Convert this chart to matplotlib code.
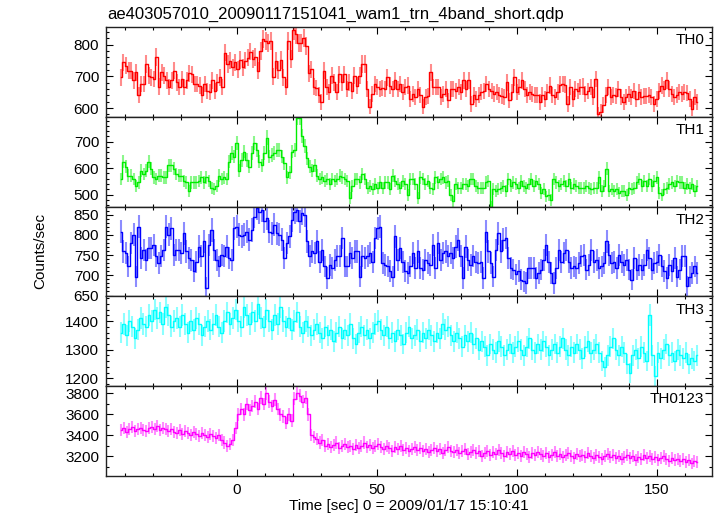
import numpy as np
import matplotlib
matplotlib.use("Agg")
import matplotlib.pyplot as plt
from matplotlib.ticker import MultipleLocator

plt.rcParams["font.family"] = ["Liberation Sans", "DejaVu Sans"]

# time span of the light curves (bin centres, sec)
T_FIRST, T_LAST = -41.5, 164.5

# count rates (counts/sec), in time order
th0 = np.array([
    697, 744, 733, 718, 718, 687, 713, 640, 676, 676,
    739, 702, 697, 692, 761, 668, 713, 702, 687, 666,
    687, 718, 681, 666, 692, 666, 687, 709, 707, 676,
    676, 671, 640, 676, 655, 650, 687, 655, 681, 697,
    666, 775, 739, 749, 728, 744, 723, 751, 728, 749,
    759, 778, 754, 761, 718, 780, 817, 811, 806, 811,
    699, 749, 720, 751, 697, 666, 811, 754, 845, 832,
    806, 806, 822, 796, 709, 723, 668, 664, 640, 619,
    718, 666, 650, 702, 681, 650, 707, 681, 707, 661,
    681, 655, 702, 671, 702, 739, 739, 661, 605, 645,
    676, 666, 661, 663, 661, 697, 671, 661, 687, 661,
    676, 650, 666,
    671, 629, 645, 635, 661, 640, 605, 635, 637, 713,
    666, 666, 666, 635, 645, 661, 624, 661, 661, 655,
    666, 650, 687, 661, 687, 614, 640, 629, 640, 650,
    655, 676, 661, 655, 645, 650, 640, 637, 635, 681,
    624, 650, 697, 650, 666, 687, 661, 640, 650, 645,
    640, 640, 619, 640, 629, 650, 671, 640, 635, 650,
    674, 676, 674, 614, 666, 629, 661, 655, 666, 668,
    645, 655, 666, 635, 692, 580, 588, 609, 640, 666,
    635, 640, 637, 661, 635, 619, 635, 645, 635, 655,
    629, 650, 635, 637, 637, 640, 635, 612, 629, 655,
    671, 661, 687, 661, 645, 635, 640, 650, 645, 650,
    647, 629, 598, 635, 619,
], dtype=float)

th1 = np.array([
    559, 624, 605, 572, 572, 559, 533, 546, 591, 578,
    591, 624, 598, 565, 559, 572, 572, 565, 565, 611,
    611, 598, 578, 572, 572, 552, 546, 513, 546, 546,
    546, 552, 565, 546, 565, 552, 526, 520, 533, 572,
    559, 565, 559, 624, 657, 644, 696, 591, 631, 663,
    631, 605, 657, 696, 670, 624, 611, 657, 716, 644,
    650, 657, 670, 670, 644, 618, 565, 585, 663, 670,
    790, 790, 722, 683, 637, 605, 591, 611, 572, 559,
    565, 552, 559, 539, 559, 552, 559, 572, 565, 559,
    552, 487, 533, 559, 559, 546, 578, 559, 526, 533,
    520, 539, 526, 546, 526, 546, 546, 520, 572, 552,
    539, 526, 552, 539, 500,
    559, 559, 539, 487, 565, 559, 539, 552, 526, 520,
    565, 546, 559, 565, 546, 552, 500, 474, 539, 526,
    526, 539, 539, 533, 559, 559, 533, 526, 526, 526,
    546, 552, 454, 520, 513, 520, 526, 533, 513, 559,
    533, 546, 539, 526, 552, 533, 526, 539, 559, 533,
    552, 539, 507, 520, 493, 500, 480, 559, 546, 533,
    539, 552, 533, 559, 526, 539, 533, 526, 526, 526,
    533, 526, 520, 526, 526, 565, 513, 533, 598, 513,
    520, 513, 520, 507, 513, 513, 500, 526, 520, 526,
    546, 559, 533, 552, 533, 559, 533, 552, 565, 507,
    500, 520, 526, 539, 546, 533, 552, 546, 546, 526,
    539, 526, 539, 513, 533,
], dtype=float)

th2 = np.array([
    808, 759, 755, 722, 780, 800, 697, 820, 743, 763,
    738, 767, 767, 775, 747, 730, 747, 763, 820, 800,
    816, 751, 763, 763, 755, 804, 759, 743, 738, 710,
    734, 771, 747, 784, 669, 775, 812, 763, 738, 722,
    751, 747, 771, 743, 738, 816, 820, 800, 796, 800,
    808, 788, 812, 845, 866, 857, 862, 833, 841, 808,
    804, 825, 804, 800, 788, 743, 780, 796, 837, 857,
    862, 833, 853, 849, 784, 747, 759, 755, 784, 734,
    763, 722, 693, 726, 718, 738, 747, 747, 792, 722,
    722, 755, 743, 759, 759, 697, 747, 743, 747, 755,
    734, 792, 816, 820, 730, 726, 722, 710, 697, 796,
    738, 767, 734, 710, 706,
    722, 755, 718, 759, 718, 714, 738, 730, 726, 775,
    718, 780, 738, 755, 759, 747, 755, 743, 771, 788,
    747, 693, 771, 738, 726, 747, 734, 730, 734, 693,
    808, 759, 730, 697, 763, 804, 759, 788, 792, 743,
    718, 714, 702, 710, 689, 685, 681, 718, 718, 718,
    693, 706, 714, 738, 775, 734, 706, 681, 718, 763,
    734, 755, 763, 734, 718, 722, 718, 730, 747, 751,
    714, 726, 763, 734, 738, 718, 722, 730, 784, 751,
    730, 734, 718, 751, 734, 726, 738, 714, 689, 743,
    714, 726, 714, 726, 763, 743, 714, 730, 734, 751,
    722, 710, 693, 726, 710, 743, 697, 714, 747, 747,
    673, 697, 706, 722, 706,
], dtype=float)

th3 = np.array([
    1360, 1390, 1350, 1400, 1380, 1340, 1370, 1410, 1390, 1380,
    1420, 1400, 1440, 1410, 1430, 1390, 1450, 1420, 1380, 1400,
    1410, 1380, 1420, 1390, 1360, 1400, 1370, 1410, 1390, 1350,
    1380, 1400, 1370, 1390, 1420, 1380, 1360, 1400, 1430, 1390,
    1410, 1440, 1400, 1380, 1450, 1420, 1390, 1430, 1400, 1460,
    1410, 1380, 1440, 1400, 1370, 1420, 1390, 1450, 1400, 1380,
    1410, 1370, 1400, 1430, 1380, 1360, 1400, 1380, 1350, 1370,
    1390, 1360, 1340, 1380, 1350, 1370, 1330, 1360, 1380, 1340,
    1370, 1350, 1390, 1340, 1320, 1360, 1380, 1350, 1370, 1340,
    1360, 1390, 1400, 1370, 1350, 1380, 1340, 1360, 1330, 1370,
    1350, 1320, 1360, 1380, 1340, 1350, 1370, 1330, 1360, 1340,
    1370, 1350, 1330, 1360, 1340, 1390, 1370, 1380, 1350, 1330,
    1360, 1340, 1310, 1350, 1330, 1360, 1320, 1340, 1300, 1330,
    1310, 1280, 1320, 1300, 1290, 1330, 1310, 1280, 1300, 1320,
    1290, 1310, 1330, 1300, 1280, 1310, 1340, 1300, 1290, 1320,
    1300, 1330, 1310, 1280, 1300, 1320, 1290, 1310, 1340, 1300,
    1280, 1310, 1290, 1320, 1300, 1270, 1310, 1330, 1290, 1300,
    1320, 1290, 1260, 1240, 1280, 1310, 1340, 1300, 1280, 1310,
    1290, 1250, 1220, 1280, 1300, 1270, 1310, 1290, 1260, 1420,
    1280, 1210, 1290, 1270, 1300, 1320, 1280, 1290, 1260, 1300,
    1280, 1270, 1290, 1250, 1270, 1260, 1280,
], dtype=float)

th0123 = np.array([
    3450, 3470, 3430, 3460, 3480, 3440, 3460, 3470, 3450, 3440,
    3470, 3480, 3460, 3490, 3450, 3470, 3460, 3440, 3460, 3430,
    3420, 3450, 3410, 3440, 3420, 3400, 3430, 3410, 3390, 3420,
    3400, 3380, 3410, 3390, 3370, 3400, 3350, 3330, 3300, 3320,
    3350, 3470, 3600, 3650, 3600, 3700, 3640, 3680, 3720, 3650,
    3760, 3700, 3800, 3720, 3680, 3740, 3650, 3600, 3580, 3520,
    3600, 3540, 3750, 3800, 3780, 3720, 3760, 3600, 3400, 3380,
    3360, 3330, 3350, 3300, 3320, 3290, 3310, 3330, 3280, 3300,
    3320, 3290, 3300, 3270, 3310, 3280, 3300, 3330, 3290, 3310,
    3280, 3300, 3320, 3290, 3270, 3300, 3280, 3250, 3290, 3270,
    3300, 3260, 3280, 3250, 3270, 3290, 3260, 3280, 3250, 3270,
    3240, 3260, 3280, 3250, 3270, 3230, 3260, 3290, 3250, 3240,
    3260, 3230, 3250, 3270, 3220, 3240, 3260, 3230, 3250, 3200,
    3230, 3250, 3210, 3240, 3220, 3260, 3230, 3200, 3240, 3220,
    3250, 3210, 3230, 3200, 3240, 3220, 3190, 3230, 3210, 3240,
    3220, 3200, 3230, 3190, 3210, 3240, 3200, 3220, 3190, 3210,
    3230, 3200, 3180, 3220, 3200, 3210, 3190, 3230, 3200, 3180,
    3210, 3190, 3170, 3200, 3220, 3190, 3210, 3180, 3200, 3170,
    3190, 3210, 3180, 3200, 3160, 3190, 3170, 3210, 3180, 3200,
    3170, 3190, 3160, 3180, 3200, 3170, 3150, 3180, 3160, 3170,
    3150, 3170, 3140, 3160, 3130, 3150, 3140,
], dtype=float)

names = ["TH0", "TH1", "TH2", "TH3", "TH0123"]
series = [th0, th1, th2, th3, th0123]
colors = ["#ff0000", "#00ee00", "#0000ff", "#00ffff", "#ff00ff"]
ylims = [(573, 856), (455, 795), (648, 870), (1173, 1486), (3009, 3870)]
ymajor = [100, 100, 50, 100, 200]
yminor = [20, 20, 10, 20, 100]

fig = plt.figure(figsize=(7.17, 5.16), dpi=100)
axes = fig.subplots(5, 1, sharex=True, gridspec_kw=dict(hspace=0))
fig.subplots_adjust(left=0.148, right=0.993, top=0.948, bottom=0.0775)

for ax, name, vals, col, ylim, maj, mnr in zip(axes, names, series, colors,
                                               ylims, ymajor, yminor):
    t = np.linspace(T_FIRST, T_LAST, len(vals))
    err = np.sqrt(vals)   # Poisson errors for ~1 s bins
    ax.errorbar(t, vals, yerr=err, fmt="none", ecolor=col, elinewidth=1.5,
                alpha=0.45, capsize=0)
    ax.step(t, vals, where="mid", color=col, lw=1.0)

    ax.set_ylim(*ylim)
    ax.set_xlim(-46.8, 169.8)
    ax.yaxis.set_major_locator(MultipleLocator(maj))
    ax.yaxis.set_minor_locator(MultipleLocator(mnr))
    ax.xaxis.set_major_locator(MultipleLocator(50))
    ax.xaxis.set_minor_locator(MultipleLocator(10))
    ax.tick_params(which="both", direction="in", top=True, right=True,
                   labelsize=11, width=0.8, pad=5)
    ax.tick_params(which="major", length=5)
    ax.tick_params(which="minor", length=2.5)
    for sp in ax.spines.values():
        sp.set_linewidth(1.0)
        sp.set_color("#222222")
    ax.text(0.987, 0.93, name, transform=ax.transAxes, ha="right", va="top",
            fontsize=11)

fig.text(0.149, 0.973, "ae403057010_20090117151041_wam1_trn_4band_short.qdp",
         ha="left", va="center", fontsize=12)
fig.text(0.570, 0.019, "Time [sec] 0 = 2009/01/17 15:10:41",
         ha="center", va="center", fontsize=11)
fig.text(0.056, 0.513, "Counts/sec", rotation=90, ha="center", va="center",
         fontsize=11)

fig.savefig("out.png", dpi=100)
